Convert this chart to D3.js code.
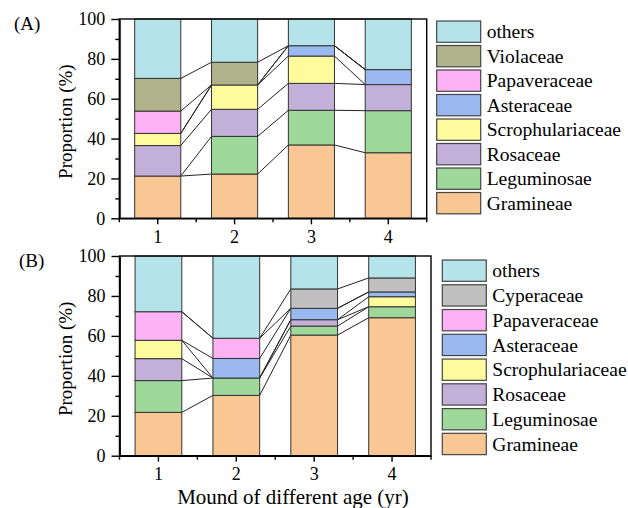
<!DOCTYPE html>
<html>
<head>
<meta charset="utf-8">
<script src="https://cdn.jsdelivr.net/npm/d3@7"></script>
<style>
  body { margin: 0; background: #fff; }
  svg text { font-family: "Liberation Serif", "Times New Roman", "DejaVu Serif", serif; fill: #000; }
  .axis path, .axis line { stroke: #000; stroke-width: 1.4px; }
  .axis text { font-size: 18px; }
</style>
</head>
<body>
<svg id="chart" width="628" height="508"></svg>
<script>
var ages = ["1", "2", "3", "4"];
var yTicks = [0, 20, 40, 60, 80, 100];
var yMinor = [10, 30, 50, 70, 90];

// panel A families, bottom to top
var familiesA = ["Gramineae", "Leguminosae", "Rosaceae", "Scrophulariaceae", "Asteraceae", "Papaveraceae", "Violaceae", "others"];
var gramineaeA = [21.2, 22.2, 36.8, 32.9];
var leguminosaeA = [0, 18.9, 17.4, 21.1];
var rosaceaeA = [15.3, 13.6, 13.5, 13.1];
var scrophA = [6.1, 12.2, 13.7, 0];
var asteraceaeA = [0, 0, 5.2, 7.5];
var papaveraceaeA = [11.2, 0, 0, 0];
var violaceaeA = [16.4, 11.4, 0, 0];
var othersA = [29.8, 21.7, 13.4, 25.4];

// panel B families, bottom to top
var familiesB = ["Gramineae", "Leguminosae", "Rosaceae", "Scrophulariaceae", "Asteraceae", "Papaveraceae", "Cyperaceae", "others"];
var gramineaeB = [21.7, 30.2, 60.4, 69.1];
var leguminosaeB = [15.9, 8.7, 4.5, 5.5];
var rosaceaeB = [11.0, 0, 3.2, 0];
var scrophB = [9.2, 0, 0, 5.0];
var asteraceaeB = [0, 9.8, 5.7, 2.4];
var papaveraceaeB = [14.3, 10.1, 0, 0];
var cyperaceaeB = [0, 0, 9.7, 7.0];
var othersB = [27.9, 41.2, 16.5, 11.0];

var colors = {
  "Gramineae": "#f9c793",
  "Leguminosae": "#9fd89b",
  "Rosaceae": "#c3b0d8",
  "Scrophulariaceae": "#fefb9c",
  "Asteraceae": "#9bb9f1",
  "Papaveraceae": "#fdb2f6",
  "Violaceae": "#b0b38b",
  "Cyperaceae": "#c0c0c0",
  "others": "#b5e3ea"
};

var serif = "Liberation Serif, Times New Roman, DejaVu Serif, serif";
var svg = d3.select("#chart");

function buildRows(families, series) {
  return ages.map(function(a, i) {
    var row = { age: a };
    families.forEach(function(f, j) { row[f] = series[j][i]; });
    return row;
  });
}

function drawPanel(opt) {
  var rows = buildRows(opt.families, opt.series);
  var stacked = d3.stack().keys(opt.families)(rows);

  var x = d3.scaleBand().domain(ages).range([opt.left, opt.right])
      .paddingInner(0.4).paddingOuter(0.2);
  var y = d3.scaleLinear().domain([0, 100]).range([opt.bottom, opt.top]);
  var bw = x.bandwidth();

  var g = svg.append("g");

  // connector lines between neighbouring bars
  stacked.forEach(function(s) {
    for (var i = 0; i < ages.length - 1; i++) {
      g.append("line")
        .attr("x1", x(ages[i]) + bw)
        .attr("y1", y(s[i][1]))
        .attr("x2", x(ages[i + 1]))
        .attr("y2", y(s[i + 1][1]))
        .attr("stroke", "#222")
        .attr("stroke-width", 1);
    }
  });

  // bars
  g.selectAll(".layer")
    .data(stacked)
    .enter().append("g")
    .attr("fill", function(d) { return colors[d.key]; })
    .selectAll("rect")
    .data(function(d) { return d.filter(function(p) { return p[1] - p[0] > 0; }); })
    .enter().append("rect")
    .attr("x", function(d) { return x(d.data.age); })
    .attr("y", function(d) { return y(d[1]); })
    .attr("width", bw)
    .attr("height", function(d) { return y(d[0]) - y(d[1]); })
    .attr("stroke", "#333")
    .attr("stroke-width", 1);

  // frame
  g.append("rect")
    .attr("x", opt.left).attr("y", opt.top)
    .attr("width", opt.right - opt.left).attr("height", opt.bottom - opt.top)
    .attr("fill", "none").attr("stroke", "#000").attr("stroke-width", 1.4);

  // y axis
  g.append("g").attr("class", "axis")
    .attr("transform", "translate(" + opt.left + ",0)")
    .call(d3.axisLeft(y).tickValues(yTicks).tickSize(8).tickSizeOuter(0).tickPadding(6))
    .attr("font-family", serif).attr("font-size", 18);
  g.append("g").attr("class", "axis")
    .attr("transform", "translate(" + opt.left + ",0)")
    .call(d3.axisLeft(y).tickValues(yMinor).tickSize(4).tickSizeOuter(0).tickFormat(""));

  // x axis
  g.append("g").attr("class", "axis")
    .attr("transform", "translate(0," + opt.bottom + ")")
    .call(d3.axisBottom(x).tickSize(6).tickSizeOuter(0).tickPadding(6))
    .attr("font-family", serif).attr("font-size", 18);
  var step = x.step();
  d3.range(ages.length + 1).forEach(function(k) {
    g.append("line")
      .attr("x1", opt.left + k * step).attr("x2", opt.left + k * step)
      .attr("y1", opt.bottom).attr("y2", opt.bottom + 4)
      .attr("stroke", "#000").attr("stroke-width", 1.4);
  });

  // y title
  g.append("text")
    .attr("transform", "translate(" + opt.ytX + "," + ((opt.top + opt.bottom) / 2 + 3) + ") rotate(-90)")
    .attr("text-anchor", "middle")
    .attr("dy", "0.35em")
    .attr("font-family", serif)
    .attr("font-size", "19px")
    .text("Proportion (%)");

  // panel label
  g.append("text")
    .attr("x", opt.labelX).attr("y", opt.labelY)
    .attr("font-family", serif)
    .attr("font-size", "19px")
    .text(opt.label);

  // legend, top to bottom reversed
  var legend = g.append("g");
  opt.families.slice().reverse().forEach(function(f, i) {
    var yy = opt.legY + i * opt.legStep;
    legend.append("rect")
      .attr("x", opt.legX).attr("y", yy)
      .attr("width", 44).attr("height", 21.3)
      .attr("fill", colors[f]).attr("stroke", "#444").attr("stroke-width", 1.2);
    legend.append("text")
      .attr("x", opt.legX + 50).attr("y", yy + 10.6)
      .attr("dy", "0.35em")
      .attr("font-family", serif)
      .attr("font-size", "19.5px")
      .text(f);
  });
}

drawPanel({
  families: familiesA,
  series: [gramineaeA, leguminosaeA, rosaceaeA, scrophA, asteraceaeA, papaveraceaeA, violaceaeA, othersA],
  left: 119.3, right: 426.7, top: 19, bottom: 218.3,
  ytX: 65.5, label: "(A)", labelX: 14, labelY: 30,
  legX: 436.7, legY: 21, legStep: 24.5
});

drawPanel({
  families: familiesB,
  series: [gramineaeB, leguminosaeB, rosaceaeB, scrophB, asteraceaeB, papaveraceaeB, cyperaceaeB, othersB],
  left: 119.5, right: 431, top: 256, bottom: 455.7,
  ytX: 65, label: "(B)", labelX: 19, labelY: 267,
  legX: 442.3, legY: 260, legStep: 24.76
});

svg.append("text")
  .attr("x", 293).attr("y", 504)
  .attr("text-anchor", "middle")
  .attr("font-family", serif)
  .attr("font-size", "21px")
  .text("Mound of different age (yr)");
</script>
</body>
</html>
